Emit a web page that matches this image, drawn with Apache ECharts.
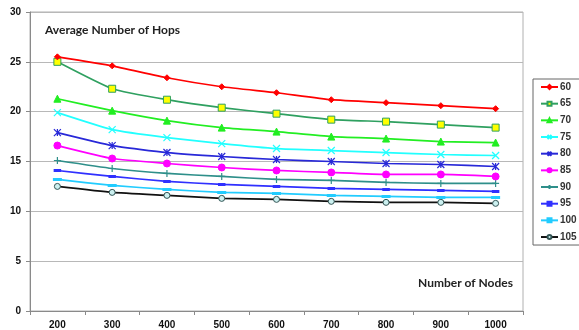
<!DOCTYPE html>
<html>
<head>
<meta charset="utf-8">
<script src="https://cdn.jsdelivr.net/npm/echarts@6/dist/echarts.min.js"></script>
<style>
  html, body { margin: 0; padding: 0; background: #fff; }
  #chart { width: 579px; height: 330px; }
</style>
</head>
<body>
<div id="chart"></div>
<script>
// Number of nodes on the x axis
const nodes = ['200', '300', '400', '500', '600', '700', '800', '900', '1000'];

// Average hop counts, one array per series
const s60  = [25.5, 24.6, 23.4, 22.5, 21.9, 21.2, 20.9, 20.6, 20.3];
const s65  = [25.0, 22.3, 21.2, 20.4, 19.8, 19.2, 19.0, 18.7, 18.4];
const s70  = [21.3, 20.1, 19.1, 18.4, 18.0, 17.5, 17.3, 17.0, 16.9];
const s75  = [19.9, 18.2, 17.4, 16.8, 16.3, 16.1, 15.9, 15.7, 15.6];
const s80  = [17.9, 16.6, 15.9, 15.5, 15.2, 15.0, 14.8, 14.7, 14.5];
const s85  = [16.6, 15.3, 14.8, 14.4, 14.1, 13.9, 13.7, 13.7, 13.5];
const s90  = [15.1, 14.3, 13.8, 13.5, 13.2, 13.1, 12.9, 12.8, 12.8];
const s95  = [14.1, 13.5, 13.0, 12.7, 12.5, 12.3, 12.2, 12.1, 12.0];
const s100 = [13.2, 12.6, 12.2, 11.9, 11.8, 11.6, 11.5, 11.4, 11.4];
const s105 = [12.5, 11.9, 11.6, 11.3, 11.2, 11.0, 10.9, 10.9, 10.8];

const seriesNames = ['60', '65', '70', '75', '80', '85', '90', '95', '100', '105'];
const seriesData = [s60, s65, s70, s75, s80, s85, s90, s95, s100, s105];

const yTicks = [0, 5, 10, 15, 20, 25, 30];

// Marker shapes
const X_PATH = 'path://M0,0L10,10M10,0L0,10';
const STAR_PATH = 'path://M0,0L10,10M10,0L0,10M5,0L5,10';
const PLUS_PATH = 'path://M5,0L5,10M0,5L10,5';

const styles = [
  { color: '#ff0000', symbol: 'diamond', size: 6, fill: '#ff0000', stroke: '#ff0000' },
  { color: '#2fa060', symbol: 'rect', size: 7, fill: '#ffff00', stroke: '#2fa060' },
  { color: '#22ee22', symbol: 'triangle', size: 7, fill: '#22ee22', stroke: '#22ee22' },
  { color: '#22ffff', symbol: X_PATH, size: 7, fill: 'none', stroke: '#22ffff', open: true },
  { color: '#2828d8', symbol: STAR_PATH, size: 7, fill: 'none', stroke: '#2828d8', open: true },
  { color: '#ff00ff', symbol: 'circle', size: 7, fill: '#ff00ff', stroke: '#ff00ff' },
  { color: '#2e8f8a', symbol: PLUS_PATH, size: 7, fill: 'none', stroke: '#2e8f8a', open: true },
  { color: '#3030ff', symbol: 'rect', size: [5, 2], fill: '#3030ff', stroke: '#3030ff' },
  { color: '#22ccff', symbol: 'rect', size: [6, 2], fill: '#22ccff', stroke: '#22ccff' },
  { color: '#111111', symbol: 'circle', size: 6, fill: '#ccf0f0', stroke: '#335555' }
];

const chart = echarts.init(document.getElementById('chart'));

const series = seriesNames.map((name, i) => {
  const st = styles[i];
  return {
    name: name,
    type: 'line',
    data: seriesData[i],
    symbol: st.symbol,
    symbolSize: st.size,
    showAllSymbol: true,
    smooth: 0.15,
    lineStyle: { color: st.color, width: 1.7 },
    itemStyle: {
      color: st.open ? 'rgba(0,0,0,0)' : st.fill,
      borderColor: st.stroke,
      borderWidth: st.open ? 1.2 : 1
    },
    emphasis: { disabled: true },
    z: 10 - i
  };
});

chart.setOption({
  animation: false,
  backgroundColor: '#ffffff',
  grid: {
    left: 30, right: 56, top: 12, bottom: 19,
    show: true, borderColor: '#b0b0b0', borderWidth: 1
  },
  xAxis: {
    type: 'category',
    data: nodes,
    boundaryGap: true,
    axisLine: { lineStyle: { color: '#8a8a8a', width: 1 } },
    axisTick: { show: true, inside: false, length: 4, lineStyle: { color: '#8a8a8a' } },
    axisLabel: {
      fontFamily: 'Liberation Sans', fontWeight: 'bold', fontSize: 10,
      color: '#111', margin: 9
    },
    splitLine: { show: false }
  },
  yAxis: {
    type: 'value',
    min: yTicks[0],
    max: yTicks[yTicks.length - 1],
    interval: 5,
    axisLine: { show: true, lineStyle: { color: '#8a8a8a', width: 1 } },
    axisTick: { show: true, length: 4, lineStyle: { color: '#8a8a8a' } },
    axisLabel: {
      fontFamily: 'Liberation Sans', fontWeight: 'bold', fontSize: 10,
      color: '#111', margin: 9
    },
    splitLine: { lineStyle: { color: '#b8b8b8', width: 1 } }
  },
  legend: {
    orient: 'vertical',
    left: 533,
    top: 79,
    width: 45,
    padding: [2, 4, 2, 7],
    itemGap: 4.67,
    itemWidth: 17,
    itemHeight: 5,
    borderColor: '#666',
    borderWidth: 1,
    data: seriesNames,
    textStyle: {
      fontFamily: 'Liberation Sans', fontWeight: 'bold', fontSize: 10,
      color: '#333', padding: [0, 0, 0, -3], lineHeight: 12
    }
  },
  graphic: [
    {
      type: 'text', left: 45, top: 24,
      style: {
        text: 'Average Number of Hops',
        font: 'bold 12px Lato', fill: '#222'
      }
    },
    {
      type: 'text', left: 418, top: 277,
      style: {
        text: 'Number of Nodes',
        font: 'bold 12px Lato', fill: '#222'
      }
    }
  ],
  series: series
});
</script>
</body>
</html>
